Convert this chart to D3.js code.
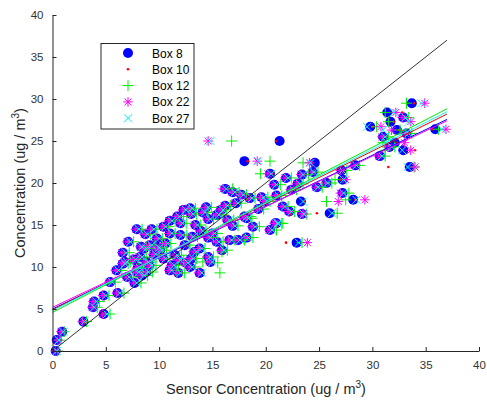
<!DOCTYPE html>
<html>
<head>
<meta charset="utf-8">
<script src="https://cdn.jsdelivr.net/npm/d3@7"></script>
<style>
  body { margin: 0; background: #fff; }
  text { font-family: "Liberation Sans", Arial, sans-serif; }
</style>
</head>
<body>
<svg id="chart" width="487" height="404"></svg>
<script>
// series names and styles
var boxNames = ['Box 8', 'Box 10', 'Box 12', 'Box 22', 'Box 27'];
var boxColors = ['#0000ff', '#ff0000', '#00ee00', '#ff00ff', '#00ffff'];

// reference concentration for each sample (y)
var refConc = [
  0.0, 1.3, 2.3, 3.5, 4.4, 5.2, 5.9, 6.6, 6.9, 8.2, 8.1, 9.4, 9.6, 10.4, 10.2,
  10.6, 11.7, 13.0, 14.5, 14.5, 12.6, 10.6, 9.4, 9.6, 12.0, 14.0, 15.2, 13.8, 11.4, 10.2,
  9.3, 10.0, 9.3, 10.6, 10.5, 11.8, 13.0, 13.2, 13.2, 14.0, 16.0, 17.0, 16.5, 16.2, 15.6,
  15.8, 14.8, 14.4, 15.2, 18.9, 18.2, 18.3, 25.0, 22.6, 22.4, 21.1, 19.3, 20.4, 22.1, 18.8,
  18.0, 17.8, 16.4, 16.3, 12.9, 15.2, 16.0, 13.5, 29.5, 28.4, 27.3, 26.7, 26.4, 26.3, 24.8,
  23.9, 21.9, 21.0, 21.3, 20.0, 21.5, 19.5, 20.6, 19.8, 12.3, 11.0, 13.6, 12.4,
  8.8, 9.0, 9.9, 10.9, 11.2, 11.5, 12.2, 12.8, 13.4, 13.9, 14.8, 15.5, 16.3, 15.0, 14.3,
  13.5, 12.2, 11.0, 10.8, 12.6, 15.7, 16.8, 17.3, 17.6, 16.9, 17.8, 18.5, 19.2, 19.9, 17.2,
  16.6, 18.6, 14.9, 12.0, 11.2, 17.1, 16.8, 25.5, 25.9, 27.8, 23.2, 24.3
];

// sensor readings (x) for each box, same order as refConc
var box8 = [
  0.3, 0.4, 0.9, 2.9, 4.8, 3.8, 3.9, 4.8, 6.1, 5.4, 7.7, 8.8, 6.0, 6.6, 9.1,
  6.8, 6.6, 7.1, 7.9, 9.3, 9.1, 8.8, 7.9, 11.0, 10.1, 11.0, 12.0, 12.0, 11.5, 11.2,
  11.8, 12.9, 13.8, 14.8, 12.5, 13.3, 15.4, 16.6, 17.4, 15.0, 11.7, 12.9, 14.1, 15.4, 16.4,
  18.2, 18.8, 20.4, 21.0, 16.9, 18.5, 19.6, 21.3, 18.0, 24.6, 20.4, 16.2, 27.2, 28.4, 27.2,
  28.2, 23.3, 26.0, 23.4, 22.9, 20.9, 18.0, 18.2, 33.7, 31.4, 31.7, 29.8, 35.9, 32.3, 32.1,
  32.9, 33.5, 23.4, 24.4, 25.7, 27.1, 24.8, 21.9, 20.8, 9.8, 10.4, 13.1, 8.3,
  7.0, 8.4, 8.0, 7.6, 8.2, 9.5, 8.6, 10.6, 9.8, 8.7, 10.4, 11.0, 13.0, 13.4, 13.9,
  14.6, 13.8, 13.0, 11.8, 12.4, 14.6, 15.8, 16.2, 17.2, 19.3, 19.9, 21.0, 22.4, 23.0, 21.6,
  22.2, 17.7, 16.9, 15.9, 14.6, 14.4, 12.3, 31.0, 33.2, 32.9, 30.7, 31.6
];
var box10 = [
  0.4, 0.5, 0.8, 3.0, 5.0, 3.9, 4.0, 5.0, 6.3, 5.6, 7.9, 9.1, 6.2, 6.8, 9.3,
  7.0, 6.8, 7.4, 8.1, 9.5, 9.3, 9.0, 8.1, 11.2, 10.3, 11.2, 12.2, 12.3, 11.7, 11.5,
  12.1, 13.1, 14.0, 15.0, 12.7, 13.5, 15.6, 16.8, 17.6, 15.2, 11.9, 13.1, 14.3, 15.6, 16.6,
  18.4, 19.0, 20.6, 21.2, 17.1, 18.7, 19.8, 21.0, 18.3, 24.3, 20.6, 16.5, 27.0, 28.6, 27.4,
  28.4, 23.6, 24.8, 22.3, 21.9, 21.1, 18.2, 18.4, 33.9, 32.8, 32.0, 30.0, 35.6, 32.5, 32.3,
  34.0, 31.5, 23.6, 24.6, 25.9, 27.3, 25.0, 22.1, 21.0, 10.0, 10.6, 13.3, 8.5,
  7.2, 8.6, 8.2, 7.8, 8.4, 9.7, 8.8, 10.8, 10.0, 8.9, 10.6, 11.2, 13.2, 13.6, 14.1,
  14.8, 14.0, 13.2, 12.0, 12.6, 14.8, 16.0, 16.4, 17.4, 19.5, 20.1, 21.2, 22.6, 23.2, 21.8,
  22.4, 17.9, 17.1, 16.1, 14.8, 14.6, 12.5, 31.2, 33.4, 33.1, 30.9, 31.8
];
var box12 = [
  0.5, 0.7, 1.1, 3.2, 5.4, 4.2, 4.4, 5.3, 6.7, 5.9, 8.3, 9.4, 6.5, 7.1, 9.7,
  7.3, 7.2, 7.6, 8.4, 9.8, 9.6, 9.3, 8.4, 11.6, 10.7, 11.5, 12.6, 12.6, 12.1, 11.8,
  12.4, 13.4, 15.7, 14.1, 15.5, 15.9, 16.0, 17.1, 18.0, 15.5, 12.3, 13.4, 14.6, 16.0, 17.0,
  18.7, 19.4, 21.0, 21.6, 17.5, 19.0, 20.2, 16.8, 20.4, 23.5, 19.5, 16.9, 26.5, 28.8, 27.8,
  27.5, 25.7, 26.7, 23.8, 23.4, 21.5, 18.6, 18.8, 33.2, 31.2, 31.5, 30.4, 36.2, 32.6, 31.0,
  31.2, 33.9, 24.0, 24.9, 26.2, 27.6, 25.3, 22.4, 21.4, 10.3, 11.0, 13.6, 8.8,
  7.6, 8.9, 8.5, 8.1, 8.8, 10.0, 9.1, 11.1, 10.3, 9.2, 10.9, 11.5, 13.5, 13.9, 14.4,
  15.1, 14.3, 13.5, 12.3, 12.9, 15.1, 16.3, 16.7, 17.7, 19.8, 20.4, 21.5, 22.9, 23.5, 22.1,
  22.7, 18.2, 17.4, 16.4, 15.1, 14.9, 12.8, 31.5, 33.7, 33.4, 31.2, 32.1
];
var box22 = [
  0.3, 0.5, 0.8, 2.8, 4.7, 3.7, 3.8, 4.7, 6.0, 5.3, 7.6, 8.7, 5.9, 6.5, 9.0,
  6.7, 6.5, 7.0, 7.8, 9.2, 9.0, 8.7, 7.8, 10.9, 10.0, 10.9, 11.9, 11.9, 11.4, 11.1,
  11.7, 12.8, 13.7, 14.7, 12.4, 13.2, 15.3, 16.5, 17.3, 14.9, 11.6, 12.8, 14.0, 15.3, 16.3,
  18.1, 18.7, 20.3, 20.9, 16.8, 18.4, 19.5, 14.6, 19.2, 24.1, 20.2, 16.0, 27.5, 28.2, 27.0,
  29.3, 26.8, 23.5, 23.5, 23.9, 20.8, 17.9, 18.1, 34.9, 32.2, 33.6, 30.8, 36.9, 31.8, 33.0,
  33.6, 34.0, 23.3, 24.3, 25.6, 27.0, 24.7, 21.8, 20.7, 9.7, 10.3, 13.0, 8.2,
  6.9, 8.3, 7.9, 7.5, 8.1, 9.4, 8.5, 10.5, 9.7, 8.6, 10.3, 10.9, 12.9, 13.3, 13.8,
  14.5, 13.7, 12.9, 11.7, 12.3, 14.5, 15.7, 16.1, 17.1, 19.2, 19.8, 20.9, 22.3, 22.9, 21.5,
  22.1, 17.6, 16.8, 15.8, 14.5, 14.3, 12.2, 30.9, 33.1, 32.8, 30.6, 31.5
];
var box27 = [
  0.4, 0.6, 1.0, 3.0, 5.1, 3.9, 4.1, 5.0, 6.3, 5.6, 7.9, 9.0, 6.2, 6.8, 9.3,
  7.0, 6.9, 7.3, 8.1, 9.5, 9.3, 9.0, 8.1, 11.2, 10.3, 11.2, 12.2, 12.2, 11.7, 11.4,
  12.0, 13.1, 14.0, 15.0, 12.7, 13.5, 15.6, 16.8, 17.6, 15.2, 11.9, 13.1, 14.3, 15.6, 16.6,
  18.4, 19.0, 20.6, 21.2, 17.1, 18.7, 19.8, 14.8, 19.3, 24.2, 20.5, 16.3, 27.3, 28.5, 27.3,
  28.5, 23.5, 26.2, 23.6, 23.1, 21.1, 18.2, 18.4, 34.6, 32.0, 33.4, 29.5, 36.5, 31.0, 31.4,
  32.8, 33.3, 23.5, 24.5, 25.8, 27.2, 24.9, 22.1, 21.0, 10.0, 10.6, 13.2, 8.4,
  7.2, 8.6, 8.2, 7.8, 8.4, 9.7, 8.8, 10.8, 10.0, 8.9, 10.6, 11.2, 13.2, 13.6, 14.1,
  14.8, 14.0, 13.2, 12.0, 12.6, 14.8, 16.0, 16.4, 17.4, 19.5, 20.1, 21.2, 22.6, 23.2, 21.8,
  22.4, 17.9, 17.1, 16.1, 14.8, 14.6, 12.5, 31.2, 33.4, 33.1, 30.9, 31.8
];
var boxReadings = [box8, box10, box12, box22, box27];

// linear fits
var fitSlope = [0.61, 0.63, 0.655, 0.60, 0.64];
var fitIntercept = [5.0, 4.9, 4.6, 5.2, 4.8];
var fitRange = [0, 37];
var oneToOne = [0.3, 37];

var xTicks = [0, 5, 10, 15, 20, 25, 30, 35, 40];
var yTicks = [0, 5, 10, 15, 20, 25, 30, 35, 40];

var svg = d3.select('#chart');
var x = d3.scaleLinear().domain([0, 40]).range([52.5, 479]);
var y = d3.scaleLinear().domain([0, 40]).range([351, 15]);

// marker shapes
function drawMarker(g, k, px, py) {
    var c = boxColors[k];
    if (k === 0) {
        g.append('circle').attr('cx', px).attr('cy', py).attr('r', 5).style('fill', c);
    } else if (k === 1) {
        g.append('circle').attr('cx', px).attr('cy', py).attr('r', 1.3).style('fill', c);
    } else if (k === 2) {
        var s = 5.5;
        g.append('path')
            .attr('d', 'M' + (px - s) + ',' + py + 'H' + (px + s) + 'M' + px + ',' + (py - s) + 'V' + (py + s))
            .style('stroke', c).style('stroke-width', 1).style('fill', 'none');
    } else if (k === 3) {
        var s = 4.8, d = s * 0.72;
        g.append('path')
            .attr('d', 'M' + (px - s) + ',' + py + 'H' + (px + s) + 'M' + px + ',' + (py - s) + 'V' + (py + s)
                + 'M' + (px - d) + ',' + (py - d) + 'L' + (px + d) + ',' + (py + d)
                + 'M' + (px - d) + ',' + (py + d) + 'L' + (px + d) + ',' + (py - d))
            .style('stroke', c).style('stroke-width', 1).style('fill', 'none');
    } else {
        var d = 4;
        g.append('path')
            .attr('d', 'M' + (px - d) + ',' + (py - d) + 'L' + (px + d) + ',' + (py + d)
                + 'M' + (px - d) + ',' + (py + d) + 'L' + (px + d) + ',' + (py - d))
            .style('stroke', c).style('stroke-width', 1).style('fill', 'none');
    }
}

// points
var pointsG = svg.append('g');
boxReadings.forEach(function(vals, k) {
    var g = pointsG.append('g').attr('class', 'series-' + k);
    vals.forEach(function(v, i) {
        if (v == null) return;
        drawMarker(g, k, x(v), y(refConc[i]));
    });
});

// 1:1 line
svg.append('line')
    .attr('x1', x(oneToOne[0])).attr('y1', y(oneToOne[0]))
    .attr('x2', x(oneToOne[1])).attr('y2', y(oneToOne[1]))
    .style('stroke', '#000').style('stroke-width', 0.8);

// fit lines
fitSlope.forEach(function(m, k) {
    var b = fitIntercept[k];
    svg.append('line')
        .attr('x1', x(fitRange[0])).attr('y1', y(b + m * fitRange[0]))
        .attr('x2', x(fitRange[1])).attr('y2', y(b + m * fitRange[1]))
        .style('stroke', boxColors[k]).style('stroke-width', 1);
});

// axes
var xAxis = svg.append('g').attr('transform', 'translate(0,351)')
    .call(d3.axisBottom(x).tickValues(xTicks).tickSizeInner(-4).tickSizeOuter(0).tickPadding(10));
var yAxis = svg.append('g').attr('transform', 'translate(52.5,0)')
    .call(d3.axisLeft(y).tickValues(yTicks).tickSizeInner(-4).tickSizeOuter(0).tickPadding(9));
[xAxis, yAxis].forEach(function(a) {
    a.select('.domain').style('stroke', '#262626');
    a.selectAll('.tick line').style('stroke', '#262626');
    a.selectAll('.tick text').style('fill', '#333').style('font-size', '11.5px')
        .style('font-family', '"Liberation Sans", Arial, sans-serif');
});

// axis titles
var xt = svg.append('text').attr('x', 266).attr('y', 394).attr('text-anchor', 'middle')
    .style('font-size', '14.5px').style('fill', '#262626');
xt.append('tspan').text('Sensor Concentration (ug / m');
xt.append('tspan').attr('dy', -6).style('font-size', '10px').text('3');
xt.append('tspan').attr('dy', 6).text(')');

var yt = svg.append('text').attr('transform', 'translate(25,183) rotate(-90)').attr('text-anchor', 'middle')
    .style('font-size', '14.5px').style('fill', '#262626');
yt.append('tspan').text('Concentration (ug / m');
yt.append('tspan').attr('dy', -6).style('font-size', '10px').text('3');
yt.append('tspan').attr('dy', 6).text(')');

// legend
var legend = svg.append('g');
legend.append('rect').attr('x', 101).attr('y', 43.5).attr('width', 93).attr('height', 85.5)
    .style('fill', '#fff').style('stroke', '#262626').style('stroke-width', 1);
boxNames.forEach(function(name, k) {
    var ly = 53 + k * 16.3;
    drawMarker(legend, k, 128, ly);
    legend.append('text').attr('x', 152).attr('y', ly + 4.5)
        .style('font-size', '12px').style('fill', '#000').text(name);
});
</script>
</body>
</html>
